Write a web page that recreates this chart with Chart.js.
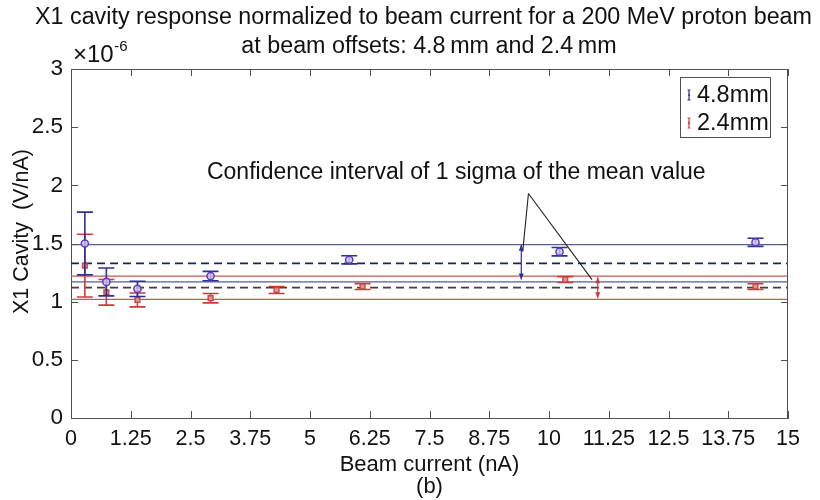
<!DOCTYPE html>
<html><head><meta charset="utf-8">
<script src="https://cdn.jsdelivr.net/npm/chart.js@4"></script>
<style>html,body{margin:0;padding:0;background:#fff}#wrap{width:820px;height:500px}</style>
</head><body><div id="wrap"><canvas id="c" width="820" height="500"></canvas></div>
<script>
// ---- text ----
const titleLines = ["X1 cavity response normalized to beam current for a 200 MeV proton beam",
                    "at beam offsets: 4.8\u2009mm and 2.4\u2009mm"];
const xTitle = ["Beam current (nA)", "(b)"];
const yTitle = "    X1 Cavity  (V/nA)";
const yExponent = ["\u00d710", "-6"];
const seriesNames = ["4.8mm", "2.4mm"];
const noteText = "Confidence interval of 1 sigma of the mean value";

// ---- ticks ----
const xTickValues = [0, 1.25, 2.5, 3.75, 5, 6.25, 7.5, 8.75, 10, 11.25, 12.5, 13.75, 15];
const xTickLabels = ["0", "1.25", "2.5", "3.75", "5", "6.25", "7.5", "8.75", "10", "11.25", "12.5", "13.75", "15"];
const yTickValues = [0, 0.5, 1, 1.5, 2, 2.5, 3];
const yTickLabels = ["0", "0.5", "1", "1.5", "2", "2.5", "3"];

// ---- data (values in units of 1e-6 V/nA) ----
const currentBlue = [0.29, 0.74, 1.39, 2.92, 5.82, 10.22, 14.32];
const responseBlue = [1.50, 1.17, 1.11, 1.22, 1.36, 1.43, 1.51];
const errorBlue = [0.27, 0.12, 0.065, 0.04, 0.035, 0.036, 0.035];

const currentRed = [0.29, 0.74, 1.39, 2.92, 4.30, 6.10, 10.34, 14.32];
const responseRed = [1.31, 1.08, 1.015, 1.03, 1.10, 1.13, 1.19, 1.13];
const errorRed = [0.27, 0.11, 0.06, 0.04, 0.03, 0.025, 0.025, 0.025];

// mean and +/- 1 sigma levels: [upper, mean, lower]
const levelsBlue = [1.49, 1.33, 1.17];
const levelsRed = [1.22, 1.12, 1.02];

// annotation (data coordinates)
const notePos = {x: 8.06, y: 2.11};
const leaderApex = {x: 9.57, y: 1.93};
const leaderEnds = [{x: 9.45, y: 1.43}, {x: 10.9, y: 1.19}];
const sigmaArrowX = [9.42, 11.02];
const sigmaArrowSpan = [[1.49, 1.19], [1.21, 1.03]];

const FONT = '"Liberation Sans", Arial, Helvetica, sans-serif';
const AXIS = '#505050';
const BLUE_ERR = '#2b2f9a', BLUE_MK = '#5b3cb4', BLUE_LINE = '#55608f', BLUE_DASH = '#1c2450';
const RED_ERR = '#d23a3a', RED_MK = '#c44848', RED_LINE = '#c8574f', RED_DASH = '#4a3a3a';

function pts(xs, ys) { return xs.map((x, i) => ({x: x, y: ys[i]})); }
function hline(v) { return [{x: 0, y: v}, {x: 15, y: v}]; }

function lineDs(v, color, dashed) {
  return {type: 'scatter', showLine: true, data: hline(v), borderColor: color,
    borderWidth: dashed ? 1.8 : 1.3, borderDash: dashed ? [8, 5] : [], pointRadius: 0, label: ''};
}

const datasets = [
  {label: seriesNames[0], data: pts(currentBlue, responseBlue), errors: errorBlue, errorColor: BLUE_ERR,
   pointStyle: 'circle', pointRadius: 3.6, borderColor: BLUE_MK, backgroundColor: 'rgba(205,195,240,0.8)', borderWidth: 1.5},
  {label: seriesNames[1], data: pts(currentRed, responseRed), errors: errorRed, errorColor: RED_ERR,
   pointStyle: 'rect', pointRadius: 3.4, borderColor: RED_MK, backgroundColor: 'rgba(230,150,140,0.95)', borderWidth: 1.4},
  lineDs(levelsBlue[0], BLUE_LINE, false),
  lineDs(levelsBlue[1], BLUE_DASH, true),
  lineDs(levelsBlue[2], BLUE_LINE, false),
  lineDs(levelsRed[0], RED_LINE, false),
  lineDs(levelsRed[1], RED_DASH, true),
  lineDs(levelsRed[2], RED_LINE, false)
];

const errorBars = {
  id: 'errorBars',
  beforeDatasetDraw(chart, args) {
    const ds = chart.data.datasets[args.index];
    if (!ds.errors) return;
    const {ctx, scales: {x, y}} = chart;
    ctx.save();
    ctx.strokeStyle = ds.errorColor; ctx.lineWidth = 1.6;
    ds.data.forEach((p, i) => {
      const e = ds.errors[i];
      const px = x.getPixelForValue(p.x);
      const t = y.getPixelForValue(p.y + e), b = y.getPixelForValue(p.y - e);
      const cw = 8;
      ctx.beginPath();
      ctx.moveTo(px, t); ctx.lineTo(px, b);
      ctx.moveTo(px - cw, t); ctx.lineTo(px + cw, t);
      ctx.moveTo(px - cw, b); ctx.lineTo(px + cw, b);
      ctx.stroke();
    });
    ctx.restore();
  }
};

function arrowHead(ctx, x, y, dir) {
  ctx.beginPath();
  ctx.moveTo(x, y); ctx.lineTo(x - 2.5, y + dir * 6); ctx.lineTo(x + 2.5, y + dir * 6); ctx.closePath(); ctx.fill();
}

const decorations = {
  id: 'decorations',
  afterDatasetsDraw(chart) {
    const {ctx, scales: {x, y}, chartArea: a} = chart;
    ctx.save();
    // box top/right + inward ticks
    ctx.strokeStyle = AXIS; ctx.lineWidth = 1;
    ctx.beginPath();
    ctx.moveTo(a.left, a.top + 0.5); ctx.lineTo(a.right, a.top + 0.5);
    ctx.moveTo(a.right - 0.5, a.top); ctx.lineTo(a.right - 0.5, a.bottom);
    x.ticks.forEach(t => {
      const px = Math.round(x.getPixelForValue(t.value)) + 0.5;
      ctx.moveTo(px, a.bottom); ctx.lineTo(px, a.bottom - 7);
      ctx.moveTo(px, a.top); ctx.lineTo(px, a.top + 7);
    });
    y.ticks.forEach(t => {
      const py = Math.round(y.getPixelForValue(t.value)) + 0.5;
      ctx.moveTo(a.left, py); ctx.lineTo(a.left + 7, py);
      ctx.moveTo(a.right, py); ctx.lineTo(a.right - 7, py);
    });
    ctx.stroke();

    // annotation
    ctx.fillStyle = '#111'; ctx.font = '23px ' + FONT;
    ctx.textAlign = 'center'; ctx.textBaseline = 'middle';
    ctx.fillText(noteText, x.getPixelForValue(notePos.x), y.getPixelForValue(notePos.y));
    ctx.strokeStyle = '#222'; ctx.lineWidth = 1.1;
    ctx.beginPath();
    leaderEnds.forEach(e => {
      ctx.moveTo(x.getPixelForValue(leaderApex.x), y.getPixelForValue(leaderApex.y));
      ctx.lineTo(x.getPixelForValue(e.x), y.getPixelForValue(e.y));
    });
    ctx.stroke();
    const cols = [BLUE_ERR, RED_ERR];
    sigmaArrowX.forEach((xv, i) => {
      const px = x.getPixelForValue(xv);
      const t = y.getPixelForValue(sigmaArrowSpan[i][0]), b = y.getPixelForValue(sigmaArrowSpan[i][1]);
      ctx.strokeStyle = cols[i]; ctx.fillStyle = cols[i]; ctx.lineWidth = 1.2;
      ctx.beginPath(); ctx.moveTo(px, t); ctx.lineTo(px, b); ctx.stroke();
      arrowHead(ctx, px, t, 1); arrowHead(ctx, px, b, -1);
    });

    // legend box
    const lx = 680, ly = 77, lw = 90, lh = 60;
    ctx.fillStyle = '#fff'; ctx.fillRect(lx, ly, lw, lh);
    ctx.strokeStyle = AXIS; ctx.lineWidth = 1; ctx.strokeRect(lx + 0.5, ly + 0.5, lw, lh);
    const entries = [[chart.data.datasets[0], 95], [chart.data.datasets[1], 123]];
    entries.forEach(([ds, cy]) => {
      ctx.strokeStyle = ds.errorColor; ctx.lineWidth = 1.2;
      ctx.beginPath();
      ctx.moveTo(689, cy - 5); ctx.lineTo(689, cy + 5);
      ctx.moveTo(687.5, cy - 5); ctx.lineTo(690.5, cy - 5);
      ctx.moveTo(687.5, cy + 5); ctx.lineTo(690.5, cy + 5);
      ctx.stroke();
      ctx.fillStyle = ds.borderColor; ctx.fillRect(688, cy - 1, 2, 2);
      ctx.fillStyle = '#111'; ctx.font = '23.5px ' + FONT; ctx.textAlign = 'left'; ctx.textBaseline = 'middle';
      ctx.fillText(ds.label, 697, cy + 1);
    });
    ctx.restore();
  },
  afterDraw(chart) {
    const {ctx} = chart;
    ctx.save();
    ctx.fillStyle = '#111'; ctx.textBaseline = 'middle'; ctx.textAlign = 'center';
    ctx.font = '23.3px ' + FONT;
    ctx.fillText(titleLines[0], 423.5, 18);
    ctx.fillText(titleLines[1], 429, 47);
    ctx.textAlign = 'left'; ctx.textBaseline = 'alphabetic';
    ctx.font = '24px ' + FONT;
    const w = ctx.measureText(yExponent[0]).width;
    ctx.fillText(yExponent[0], 73, 62);
    ctx.font = '15px ' + FONT;
    ctx.fillText(yExponent[1], 73 + w + 0.5, 51);
    ctx.restore();
  }
};

new Chart(document.getElementById('c'), {
  type: 'scatter',
  data: {datasets: datasets},
  options: {
    responsive: false, animation: false, devicePixelRatio: 1,
    layout: {padding: {top: 69, right: 32, left: 0, bottom: 0}},
    plugins: {legend: {display: false}, tooltip: {enabled: false}, title: {display: false}},
    scales: {
      x: {
        type: 'linear', min: 0, max: 15,
        afterBuildTicks: s => { s.ticks = xTickValues.map(v => ({value: v})); },
        afterFit: s => { s.height = 82; },
        ticks: {autoSkip: false, maxRotation: 0, padding: 8, color: '#111',
          font: {family: FONT, size: 21.5}, callback: (v, i) => xTickLabels[i]},
        grid: {display: true, drawOnChartArea: false, drawTicks: false},
        border: {display: true, color: AXIS, width: 1},
        title: {display: true, text: xTitle, color: '#111', font: {family: FONT, size: 22, lineHeight: 1.0},
          padding: {top: 0, bottom: 2}}
      },
      y: {
        type: 'linear', min: 0, max: 3,
        afterBuildTicks: s => { s.ticks = yTickValues.map(v => ({value: v})); },
        afterFit: s => { s.width = 71; },
        ticks: {autoSkip: false, padding: 8, color: '#111',
          font: {family: FONT, size: 22.5}, callback: (v, i) => yTickLabels[i]},
        grid: {display: true, drawOnChartArea: false, drawTicks: false},
        border: {display: true, color: AXIS, width: 1},
        title: {display: true, text: yTitle, color: '#111', font: {family: FONT, size: 21.5, lineHeight: 1.2},
          padding: {top: 9, bottom: 0}}
      }
    }
  },
  plugins: [errorBars, decorations]
});
</script>
</body></html>
